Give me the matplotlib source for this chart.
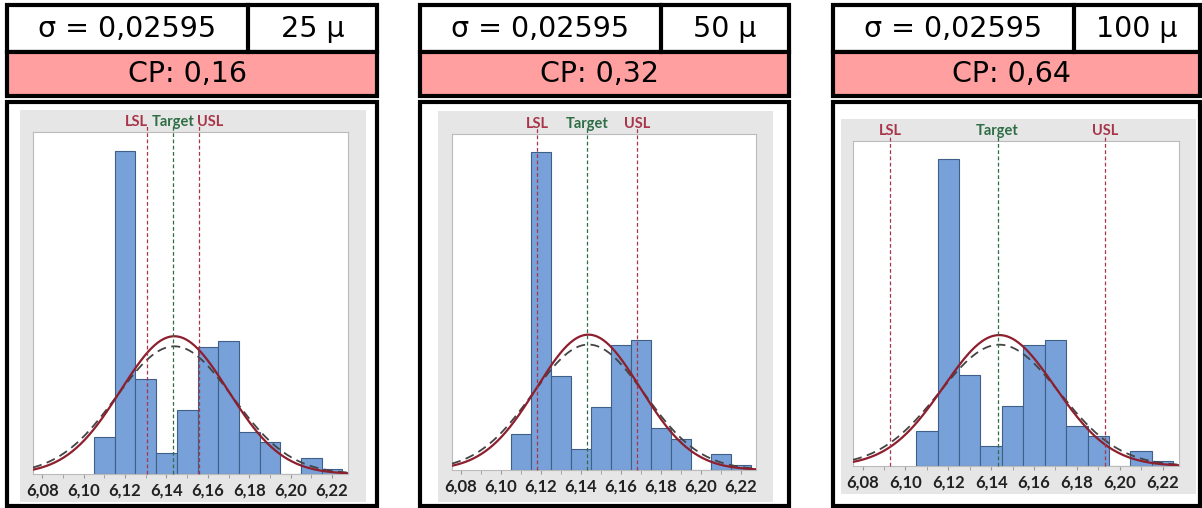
import matplotlib.pyplot as plt
from matplotlib.patches import Rectangle
from matplotlib.ticker import MultipleLocator, FuncFormatter
import numpy as np

# histogram (same data in every panel)
bin_centers = [6.11, 6.12, 6.13, 6.14, 6.15, 6.16, 6.17, 6.18, 6.19, 6.20, 6.21, 6.22]
counts = [7, 61, 18, 4, 12, 24, 25, 8, 6, 0, 3, 1]
bin_width = 0.01

mean = 6.1438
sigma_overall = 0.02595
sigma_within = 0.0280
target = 6.143

tolerances_um = [25, 50, 100]
cp_values = [0.16, 0.32, 0.64]

# layout in pixels: box x0, x1, divider, plot area (x0, x1, y0, y1), gray area (x0, x1, y0, y1)
panels = [
    dict(box=(7, 377), div=248, plot=(33, 348, 132, 474), gray=(20, 366, 110, 502)),
    dict(box=(420, 789), div=661, plot=(452, 756, 134, 470), gray=(438, 773, 111, 502)),
    dict(box=(833, 1200), div=1074, plot=(853, 1179, 141, 466), gray=(841, 1196, 119, 494)),
]

W, H = 1202, 508
plt.rcParams["font.family"] = ["Lato", "DejaVu Sans"]

fig = plt.figure(figsize=(W / 100, H / 100), dpi=100)
bg = fig.add_axes([0, 0, 1, 1])
bg.set_xlim(0, W)
bg.set_ylim(H, 0)
bg.axis("off")

RED = "#8e1f2e"
LIMIT = "#a8354a"
GREEN = "#2f6e45"
BAR = "#77a1d8"
lw_box = 3.0
head_font = dict(family="DejaVu Sans", fontsize=20.5, ha="center", va="center")


def fmt(v, _=None):
    return f"{v:.2f}".replace(".", ",")


xs = np.linspace(6.0755, 6.2277, 300)
n = sum(counts)


def normal(x, mu, s):
    return n * bin_width / (s * np.sqrt(2 * np.pi)) * np.exp(-0.5 * ((x - mu) / s) ** 2)


sigma_txt = f"{sigma_overall:.5f}".replace(".", ",")

for p, tol, cp in zip(panels, tolerances_um, cp_values):
    x0, x1 = p["box"]
    # header boxes
    bg.add_patch(Rectangle((x0, 5), x1 - x0, 47, facecolor="white", edgecolor="black", lw=lw_box))
    bg.add_patch(Rectangle((x0, 52), x1 - x0, 44, facecolor="#ff9f9f", edgecolor="black", lw=lw_box))
    bg.plot([p["div"], p["div"]], [5, 52], color="black", lw=lw_box)
    bg.text((x0 + p["div"]) / 2, 29, f"σ = {sigma_txt}", **head_font)
    bg.text((p["div"] + x1) / 2, 29, f"{tol} μ", **head_font)
    bg.text((x0 + x1) / 2 - 5, 74, f"CP: {fmt(cp)}", **head_font)
    # chart box
    bg.add_patch(Rectangle((x0, 102), x1 - x0, 404, facecolor="white", edgecolor="black", lw=lw_box))
    gx0, gx1, gy0, gy1 = p["gray"]
    bg.add_patch(Rectangle((gx0, gy0), gx1 - gx0, gy1 - gy0, facecolor="#e6e6e6", edgecolor="none"))

    px0, px1, py0, py1 = p["plot"]
    ax = fig.add_axes([px0 / W, 1 - py1 / H, (px1 - px0) / W, (py1 - py0) / H])
    ax.bar(bin_centers, counts, width=bin_width, color=BAR, edgecolor="#3f5f88", lw=0.8, zorder=2)
    ax.plot(xs, normal(xs, mean, sigma_within), color="#444444", lw=1.3, ls=(0, (5, 3)), zorder=3)
    ax.plot(xs, normal(xs, mean, sigma_overall), color=RED, lw=1.6, zorder=4)

    half = tol / 2000
    lsl, usl = target - half, target + half
    for v, c in [(lsl, LIMIT), (target, GREEN), (usl, LIMIT)]:
        ax.axvline(v, color=c, lw=0.9, ls=(0, (3, 2)), zorder=5, clip_on=False, ymax=1.02)

    lab_y = 1 + 10 / (py1 - py0)
    lab = dict(va="center", fontsize=10.5, fontweight="bold", transform=ax.get_xaxis_transform())
    if tol < 40:
        ax.text(lsl + 0.0003, lab_y, "LSL", color=LIMIT, ha="right", **lab)
        ax.text(usl - 0.0007, lab_y, "USL", color=LIMIT, ha="left", **lab)
    else:
        ax.text(lsl, lab_y, "LSL", color=LIMIT, ha="center", **lab)
        ax.text(usl, lab_y, "USL", color=LIMIT, ha="center", **lab)
    ax.text(target, lab_y, "Target", color=GREEN, ha="center", **lab)

    ax.set_xlim(6.0755, 6.2277)
    ax.set_ylim(0, 64.5)
    ax.xaxis.set_major_locator(MultipleLocator(0.02))
    ax.xaxis.set_minor_locator(MultipleLocator(0.01))
    ax.xaxis.set_major_formatter(FuncFormatter(fmt))
    ax.tick_params(axis="x", which="both", length=3, color="#999999", labelsize=12, pad=3,
                   labelcolor="#222222")
    for t in ax.get_xticklabels():
        t.set_fontweight("bold")
    ax.set_yticks([])
    for s in ax.spines.values():
        s.set_color("#bbbbbb")

fig.savefig("out.png", dpi=100)
